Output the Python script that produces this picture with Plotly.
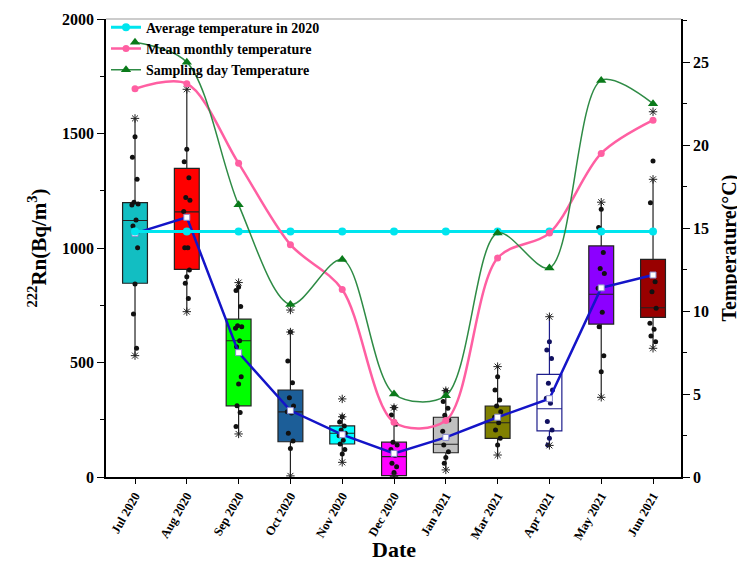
import plotly.graph_objects as go

months = ["Jul 2020", "Aug 2020", "Sep 2020", "Oct 2020", "Nov 2020", "Dec 2020",
          "Jan 2021", "Mar 2021", "Apr 2021", "May 2021", "Jun 2021"]

# Radon box statistics (Bq/m3)
q1 =     [846, 907, 311, 154, 144,   6, 106, 169, 201,  668, 697]
median = [1120, 1158, 595, 284, 191, 89, 143, 237, 298, 798, 739]
q3 =     [1198, 1348, 689, 380, 223, 152, 261, 310, 448, 1009, 950]
lower =  [530, 722, 188, 5, 64, 3, 31, 96, 138, 348, 562]
upper =  [1566, 1693, 849, 633, 263, 303, 377, 482, 700, 1200, 1300]
mean =   [1064, 1134, 543, 290, 185, 103, 173, 261, 342, 826, 882]

# individual samples (dots)
pts = [
    [1486, 1396, 1300, 1200, 1192, 1188, 1122, 1096, 1001, 843, 712, 562],
    [1431, 1377, 1307, 1220, 1208, 1159, 1001, 1001, 904, 875, 846, 780],
    [830, 814, 744, 660, 656, 650, 595, 569, 438, 406, 311, 282, 220],
    [633, 507, 412, 346, 310, 285, 280, 191, 157, 125],
    [263, 240, 223, 205, 191, 180, 160, 144, 120, 100],
    [303, 271, 230, 152, 140, 120, 95, 60, 45, 20],
    [377, 330, 300, 270, 249, 200, 170, 140, 110, 85, 60],
    [438, 380, 336, 310, 285, 261, 237, 205, 169, 140],
    [591, 555, 518, 409, 380, 344, 322, 242, 205, 169, 140],
    [1169, 1089, 980, 911, 889, 824, 719, 656, 530, 460],
    [1380, 1198, 853, 809, 737, 671, 645, 616, 591],
]
# outliers shown as stars
outliers = [[], [], [], [729], [341], [], [], [], [], [], [1595]]

# Temperatures (°C)
avg_temp_2020 = [14.8] * 11
mean_monthly = [23.4, 23.7, 18.9, 14.0, 11.3, 3.3, 3.4, 13.2, 14.7, 19.5, 21.5]
sampling_day = [26.2, 25.0, 16.4, 10.4, 13.1, 5.0, 4.9, 14.7, 12.6, 23.9, 22.5]

box_fill = ["#12BEC2", "#FF0000", "#00FF00", "#1C5E98", "#00FFFF", "#FF00FF",
            "#C0C0C0", "#808000", "#FFFFFF", "#8C00FF", "#990000"]
box_line = ["#222222"] * 8 + ["#1E1E8C"] + ["#222222"] * 2
dot_col = ["#111111"] * 8 + ["#101060"] + ["#111111"] * 2
jit = [0, -0.05, 0.04, -0.02, 0.06, -0.06, 0.02, -0.04, 0.05, 0, -0.03, 0.03, -0.05]

SERIF = "Liberation Serif"
xs = list(range(len(months)))

fig = go.Figure()

for i in xs:
    fig.add_trace(go.Box(
        x=[i], q1=[q1[i]], median=[median[i]], q3=[q3[i]],
        lowerfence=[lower[i]], upperfence=[upper[i]],
        fillcolor=box_fill[i], line=dict(color=box_line[i], width=1.2),
        width=0.48, whiskerwidth=0, boxpoints=False, showlegend=False,
        hoverinfo="skip"))
    fig.add_trace(go.Scatter(
        x=[i + jit[k % len(jit)] for k in range(len(pts[i]))], y=pts[i],
        mode="markers", marker=dict(color=dot_col[i], size=5),
        showlegend=False, hoverinfo="skip"))
    stars = [lower[i], upper[i]] + outliers[i]
    fig.add_trace(go.Scatter(
        x=[i] * len(stars), y=stars, mode="markers",
        marker=dict(symbol="asterisk-open", size=7, color="#222222",
                    line=dict(color="#222222", width=1)),
        showlegend=False, hoverinfo="skip"))

# mean line
fig.add_trace(go.Scatter(
    x=xs, y=mean, mode="lines+markers",
    line=dict(color="#1414C8", width=2.5),
    marker=dict(symbol="square", size=6, color="white", line=dict(color="#8888CC", width=1)),
    showlegend=False, hoverinfo="skip"))

# temperature traces
fig.add_trace(go.Scatter(
    x=xs, y=avg_temp_2020, yaxis="y2", mode="lines+markers",
    name="Average temperature in 2020",
    line=dict(color="#00E5EE", width=3), marker=dict(color="#00E5EE", size=8)))
fig.add_trace(go.Scatter(
    x=xs, y=mean_monthly, yaxis="y2", mode="lines+markers",
    name="Mean monthly temperature", line_shape="spline",
    line=dict(color="#FF5FA2", width=2.5, smoothing=0.9), marker=dict(color="#FF5FA2", size=7)))
fig.add_trace(go.Scatter(
    x=xs, y=sampling_day, yaxis="y2", mode="lines+markers",
    name="Sampling day Temperature", line_shape="spline",
    line=dict(color="#2E8B45", width=1.5, smoothing=0.9),
    marker=dict(symbol="triangle-up", color="#0A7A1A", size=9)))

axis_font = dict(family=SERIF, size=16, color="black", weight="bold")

fig.update_layout(
    width=745, height=562,
    margin=dict(l=98, r=72, t=11, b=93, autoexpand=False),
    plot_bgcolor="white", paper_bgcolor="white",
    showlegend=True,
    legend=dict(x=0.0, y=1.016, xanchor="left", yanchor="top",
                bgcolor="rgba(0,0,0,0)", tracegroupgap=0,
                font=dict(family=SERIF, size=14, color="black", weight="bold")),
    xaxis=dict(range=[-0.56, 10.54], tickmode="array", tickvals=xs, ticktext=months,
               tickangle=-60, showline=True, linecolor="black", linewidth=1.5,
               ticks="outside", ticklen=5, tickcolor="black", showgrid=False, zeroline=False,
               automargin=False,
               tickfont=dict(family=SERIF, size=12.5, color="black", weight="bold")),
    yaxis=dict(range=[0, 2000], tickvals=[0, 500, 1000, 1500, 2000],
               showline=True, linecolor="black", linewidth=1.5,
               ticks="outside", ticklen=7, tickcolor="black",
               minor=dict(dtick=250, ticks="outside", ticklen=4, tickcolor="black"),
               showgrid=False, zeroline=False, tickfont=axis_font, automargin=False,
               title=dict(text="<sup>222</sup>Rn(Bq/m<sup>3</sup>)",
                          font=dict(family=SERIF, size=21, color="black", weight="bold"),
                          standoff=10)),
    yaxis2=dict(range=[0, 27.6], overlaying="y", side="right",
                tickvals=[0, 5, 10, 15, 20, 25],
                showline=True, linecolor="black", linewidth=1.5,
                ticks="outside", ticklen=7, tickcolor="black",
                minor=dict(dtick=2.5, ticks="outside", ticklen=4, tickcolor="black"),
                showgrid=False, zeroline=False, tickfont=axis_font, automargin=False,
                title=dict(text="Temperature(°C)",
                           font=dict(family=SERIF, size=20, color="black", weight="bold"),
                           standoff=14)),
    annotations=[dict(text="Date", xref="paper", yref="paper", x=0.5, y=-0.158,
                      xanchor="center", yanchor="middle", showarrow=False,
                      font=dict(family=SERIF, size=22, color="black", weight="bold"))],
    shapes=[dict(type="line", xref="paper", yref="paper", x0=0, x1=1, y0=1, y1=1,
                 line=dict(color="#999999", width=1))],
)

fig.write_html("out.html")
